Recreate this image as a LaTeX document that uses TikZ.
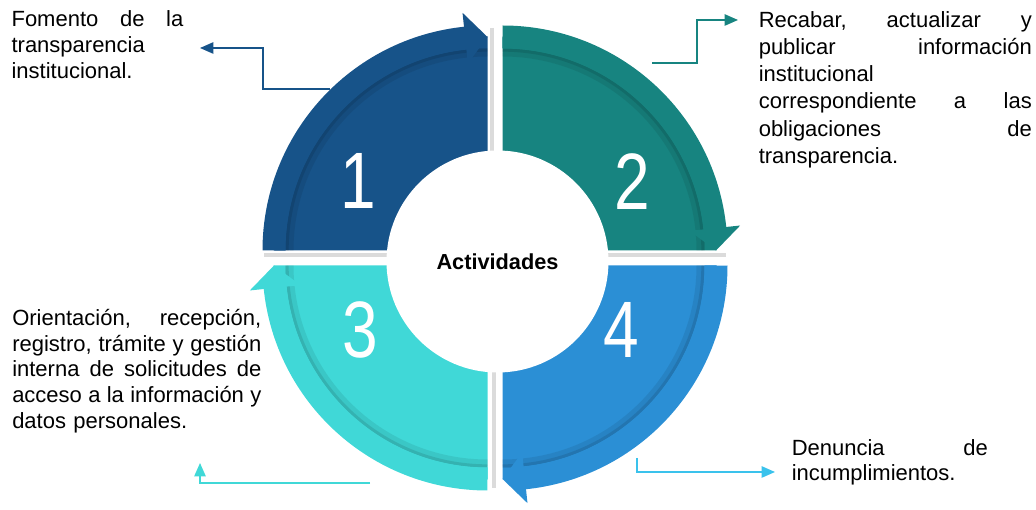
\documentclass[tikz,border=0pt]{standalone}
\usepackage{fontspec}
\setmainfont{Liberation Sans}
\newfontfamily\numfont[FakeStretch=0.8]{Liberation Sans}
\usetikzlibrary{arrows.meta}

\definecolor{qone}{HTML}{175389}
\definecolor{qtwo}{HTML}{178480}
\definecolor{qthree}{HTML}{40D8D7}
\definecolor{qfour}{HTML}{2B8FD5}
\definecolor{lnkfour}{HTML}{3AC2EC}

\newcommand\firstl{\noindent\rule{0pt}{13pt}}
\newcommand\gap{\hskip 0pt plus 1filll\relax}

\begin{document}
\begin{tikzpicture}[x=0.75pt, y=0.75pt,
	band/.style={line width=17.25pt},
	shade/.style={black, opacity=.08, line width=6pt},
	shadein/.style={black, opacity=.10, line width=2.5pt},
	num/.style={text=white, inner sep=0pt, font=\numfont\fontsize{60}{60}\selectfont},
	txt/.style={anchor=north west, inner sep=0pt, align=left, font=\fontsize{16.5}{19.3}\selectfont},
	lnk/.style={line width=1.1pt, -{Triangle[length=10pt,width=8.5pt]}},
	gapline/.style={black!14, line width=3pt}]
	\useasboundingbox (0,0) rectangle (1036,510);

	\begin{scope}[shift={(487.5,259.5)}]
		\fill[qone] (0,0) -- (180:214) arc[start angle=180, end angle=90, radius=214] -- cycle;
		\draw[shade] (180:198) arc[start angle=180, end angle=90, radius=198];
		\draw[shadein] (180:200.5) arc[start angle=180, end angle=90, radius=200.5];
		\draw[qone, band] (180:213.5) arc[start angle=180, end angle=95.5, radius=213.5];
		\fill[qone] (96:188) -- (96:239) -- (90:213.5) -- cycle;
	\end{scope}
	\begin{scope}[shift={(502.5,259.5)}]
		\fill[qtwo] (0,0) -- (90:214) arc[start angle=90, end angle=0, radius=214] -- cycle;
		\draw[shade] (90:198) arc[start angle=90, end angle=0, radius=198];
		\draw[shadein] (90:200.5) arc[start angle=90, end angle=0, radius=200.5];
		\draw[qtwo, band] (90:213.5) arc[start angle=90, end angle=5.5, radius=213.5];
		\fill[qtwo] (6:188) -- (6:239) -- (0:213.5) -- cycle;
	\end{scope}
	\begin{scope}[shift={(502.5,244.5)}]
		\fill[qfour] (0,0) -- (0:214) arc[start angle=0, end angle=-90, radius=214] -- cycle;
		\draw[shade] (0:198) arc[start angle=0, end angle=-90, radius=198];
		\draw[shadein] (0:200.5) arc[start angle=0, end angle=-90, radius=200.5];
		\draw[qfour, band] (0:213.5) arc[start angle=0, end angle=-84.5, radius=213.5];
		\fill[qfour] (-84:188) -- (-84:239) -- (-90:213.5) -- cycle;
	\end{scope}
	\begin{scope}[shift={(487.5,244.5)}]
		\fill[qthree] (0,0) -- (-90:214) arc[start angle=-90, end angle=-180, radius=214] -- cycle;
		\draw[shade] (-90:198) arc[start angle=-90, end angle=-180, radius=198];
		\draw[shadein] (-90:200.5) arc[start angle=-90, end angle=-180, radius=200.5];
		\draw[qthree, band] (-90:213.5) arc[start angle=-90, end angle=-174.5, radius=213.5];
		\fill[qthree] (-174:188) -- (-174:239) -- (-180:213.5) -- cycle;
	\end{scope}

	\draw[gapline] (491.5,482) -- (491.5,300);
	\draw[gapline] (494,22) -- (494,200);
	\draw[gapline] (264,255) -- (390,255);
	\draw[gapline] (606,255) -- (726,255);

	\node[circle, fill=white, minimum size=166.5pt, inner sep=0pt,
		font=\bfseries\fontsize{16.3}{18}\selectfont] (hub) at (497.5,248.5) {Actividades};

	\node[num] (n1) at (358,329) {1};
	\node[num] (n2) at (632,328) {2};
	\node[num] (n3) at (360,180) {3};
	\node[num] (n4) at (621,180) {4};

	\node[txt, text width=128.8pt] (t1) at (11.3,500.6)
		{\firstl Fomento\gap de\gap la\\transparencia\\institucional.};
	\node[txt, text width=204.8pt, font=\fontsize{16.5}{20.3}\selectfont] (t2) at (758.5,499.8)
		{\firstl Recabar,\gap actualizar\gap y\\publicar\gap información\\institucional\\correspondiente\gap a\gap las\\obligaciones\gap de\\transparencia.};
	\node[txt, text width=186.8pt] (t3) at (12,202.3)
		{\firstl Orientación,\gap recepción,\\registro,\gap trámite\gap y\gap gestión\\interna\gap de\gap solicitudes\gap de\\acceso\gap a\gap la\gap información\gap y\\datos personales.};
	\node[txt, text width=147pt, font=\fontsize{16.5}{18.6}\selectfont] (t4) at (791.5,71.6)
		{\firstl Denuncia\gap de\\incumplimientos.};

	\coordinate (s1) at (330,421);
	\coordinate (e1) at (200,462);
	\coordinate (s2) at (652,447);
	\coordinate (e2) at (738,490);
	\coordinate (s3) at (370,27);
	\coordinate (e3) at (200,47);
	\coordinate (s4) at (637,52);
	\coordinate (e4) at (775,38);
	\draw[lnk, qone] (s1) -- ++(-67,0) |- (e1);
	\draw[lnk, qtwo] (s2) -- ++(45,0) |- (e2);
	\draw[lnk, qthree] (s3) -| (e3);
	\draw[lnk, lnkfour] (s4) |- (e4);
\end{tikzpicture}
\end{document}
